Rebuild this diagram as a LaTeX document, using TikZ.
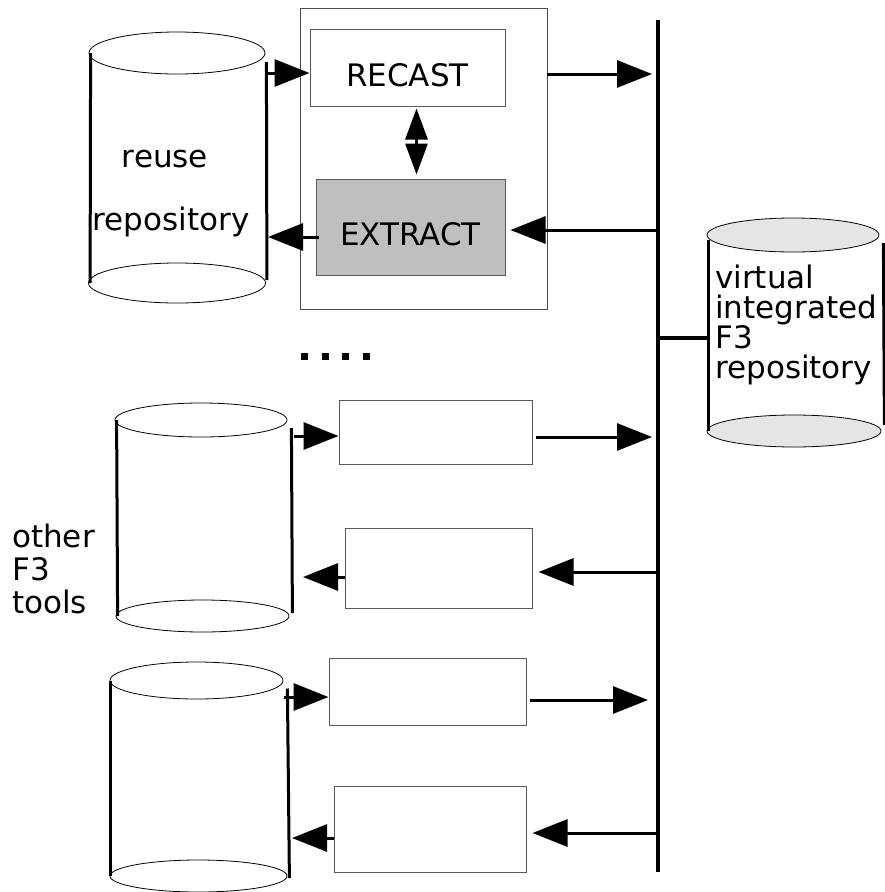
\documentclass[tikz,border=0pt]{standalone}
\usepackage{fontspec}
\setmainfont{DejaVu Sans}
\usetikzlibrary{arrows.meta,positioning,calc,shapes.geometric}

\begin{document}
\begin{tikzpicture}[
    x=1pt, y=-1pt,
    every node/.style={font=\fontsize{31}{30}\selectfont},
    txt/.style={inner sep=0pt},
    frame/.style={rectangle, draw=black!70, line width=0.9pt},
    tool/.style={rectangle, draw=black!65, line width=1pt, inner sep=0pt,
                 text height=37pt, text depth=0pt},
    disk/.style={ellipse, draw=black, line width=0.8pt, inner sep=0pt, fill=white},
    vdisk/.style={disk, fill=black!10},
    side/.style={line width=3pt},
    bus/.style={line width=3.2pt},
    arr/.style={-{Triangle[length=35pt,width=27pt]}, line width=3pt},
    dblarr/.style={{Triangle[length=31pt,width=22pt]}-{Triangle[length=31pt,width=22pt]},
                   line width=3pt},
]
\useasboundingbox (0,0) rectangle (885,892);

% reuse repository
\node[disk, minimum width=177pt, minimum height=40pt] (rbot) at (177,283) {};
\node[disk, minimum width=176pt, minimum height=42pt] (rtop) at (177,53) {};
\draw[side] ([xshift=2pt]rtop.west) -- ([xshift=2pt]rbot.west);
\draw[side] ([xshift=1pt,yshift=-9pt]rtop.east) -- ([xshift=1pt,yshift=3pt]rbot.east);
\node[txt, anchor=base] (rlab) at (165,167) {reuse};
\node[txt, anchor=base] (rlab2) at (171,230) {repository};

% RECAST / EXTRACT tool
\node[frame, minimum width=247pt, minimum height=301pt] (outer) at (423.5,158.5) {};
\node[tool, minimum width=195pt, minimum height=77pt] (recast) at (407.5,67.5) {RECAST};
\node[tool, fill=black!25, minimum width=189pt, minimum height=96pt] (extract) at (410.5,227) {EXTRACT};
\draw[dblarr] ([xshift=9pt,yshift=-2pt]recast.south) -- ([xshift=6pt,yshift=4pt]extract.north);

% bus
\coordinate (bustop) at (658,20);
\coordinate (busbot) at (658,872);
\draw[bus] (bustop) -- (busbot);

\coordinate (s1) at (266,73);
\draw[arr] (s1) -- (s1 -| recast.west);
\coordinate (s2) at (268,237);
\draw[arr, shorten <=-3pt] (s2 -| extract.west) -- (s2);
\coordinate (t1) at (658,74);
\draw[arr, shorten >=6pt] (t1 -| outer.east) -- (t1);
\coordinate (t2) at (658,230);
\draw[arr, shorten >=5pt] (t2) -- (t2 -| extract.east);

% virtual integrated repository
\node[vdisk, minimum width=174pt, minimum height=32pt] (vbot) at (794,431) {};
\node[vdisk, minimum width=172pt, minimum height=34pt] (vtop) at (793,235) {};
\draw[side] ([xshift=2pt,yshift=-5pt]vtop.west) -- ([xshift=2pt]vbot.west);
\draw[side] ([xshift=4pt,yshift=-8pt]vtop.east) -- ([xshift=3pt,yshift=6pt]vbot.east);
\node[txt, align=left, anchor=north west] (vlab) at (715,264.4)
    {virtual\\integrated\\F3\\repository};
\coordinate (t7) at (658,338);
\draw[bus] (t7) -- (t7 -| vtop.west);

% dots
\foreach \i in {0,...,3}
    \fill (301+20.5*\i,353) rectangle ++(7,7);

% other F3 tools
\node[txt, align=left, anchor=north west, font=\fontsize{31}{33}\selectfont] (other)
    at (12,523.4) {other\\F3\\tools};

% second tool
\node[disk, minimum width=173pt, minimum height=32pt] (c2bot) at (202.5,616) {};
\node[disk, minimum width=172pt, minimum height=34pt] (c2top) at (201,420) {};
\draw[side] ([xshift=2pt]c2top.west) -- ([xshift=2pt]c2bot.west);
\draw[side] ([xshift=4pt,yshift=-8pt]c2top.east) -- ([xshift=3pt,yshift=3pt]c2bot.east);
\node[tool, minimum width=193pt, minimum height=64pt] (a2) at (435.5,432) {};
\node[tool, minimum width=187pt, minimum height=80pt] (b2) at (438.5,568) {};

\coordinate (s3) at (294,436);
\draw[arr] (s3) -- (s3 -| a2.west);
\coordinate (t3) at (658,437);
\draw[arr, shorten <=3pt, shorten >=6pt] (t3 -| a2.east) -- (t3);
\coordinate (t4) at (658,572);
\draw[arr, shorten >=6pt] (t4) -- (t4 -| b2.east);
\coordinate (s4) at (303,577);
\draw[arr] (s4 -| b2.west) -- (s4);

% third tool
\node[disk, minimum width=177pt, minimum height=32pt] (c3bot) at (198.5,876) {};
\node[disk, minimum width=173pt, minimum height=37pt] (c3top) at (196.5,680.5) {};
\draw[side] ([xshift=1pt]c3top.west) -- ([xshift=1pt]c3bot.west);
\draw[side] ([xshift=4pt,yshift=-8pt]c3top.east) -- ([xshift=2pt,yshift=-2pt]c3bot.east);
\node[tool, minimum width=197pt, minimum height=67pt] (a3) at (427.5,691.5) {};
\node[tool, minimum width=192pt, minimum height=86pt] (b3) at (430,829) {};

\coordinate (s5) at (284,697);
\draw[arr] (s5) -- (s5 -| a3.west);
\coordinate (t5) at (658,700);
\draw[arr, shorten <=3pt, shorten >=10pt] (t5 -| a3.east) -- (t5);
\coordinate (t6) at (658,833);
\draw[arr, shorten >=6pt] (t6) -- (t6 -| b3.east);
\coordinate (s6) at (292,838);
\draw[arr] (s6 -| b3.west) -- (s6);

\end{tikzpicture}
\end{document}
